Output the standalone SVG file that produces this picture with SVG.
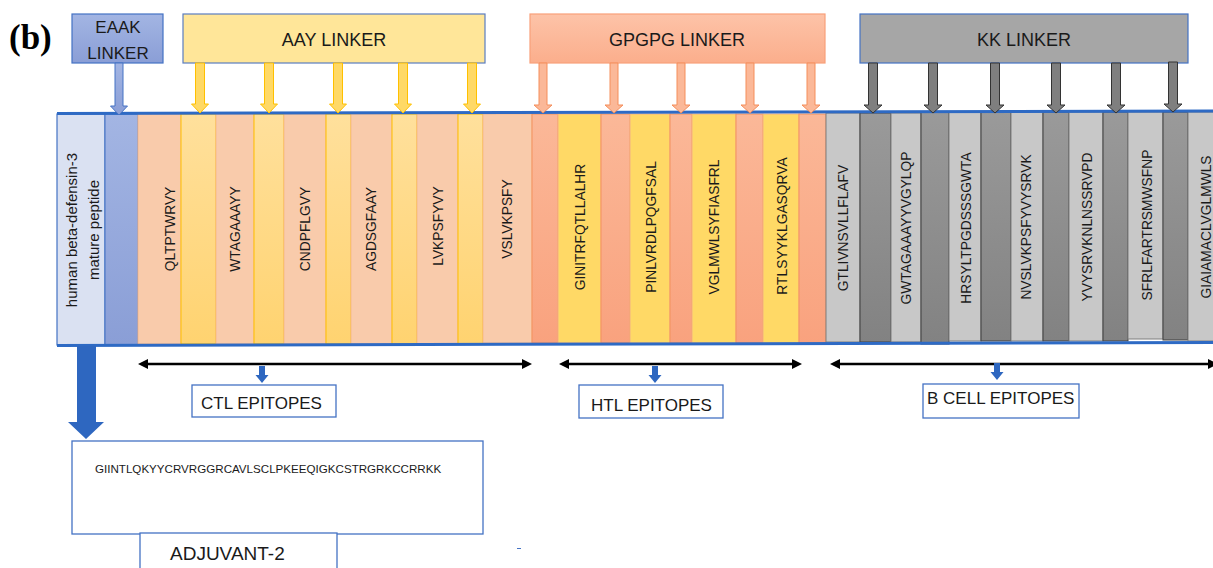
<svg xmlns="http://www.w3.org/2000/svg" xmlns:xlink="http://www.w3.org/1999/xlink" width="1213" height="568" viewBox="0 0 1213 568">
<defs>
<style>
.t{font-family:"Liberation Sans",Arial,sans-serif;fill:#1a1a1a}
.v{font-family:"Liberation Sans",Arial,sans-serif;font-size:13.8px;fill:#1a1a1a;text-anchor:middle;dominant-baseline:central}
.vb{font-size:15px}
.ctl{fill:#F9CBAB;stroke:#F5B98F;stroke-width:1}
.aay{fill:url(#gAay);stroke:#FFC000;stroke-width:1}
.gp{fill:url(#gGp);stroke:#F4915E;stroke-width:1}
.htl{fill:#FFD966;stroke:#F4B183;stroke-width:1}
.bc{fill:#C8C8C8;stroke:#7F7F7F;stroke-width:1}
.kk{fill:url(#gKk);stroke:#3F3F3F;stroke-width:1}
.lbl{fill:#fff;stroke:#4472C4;stroke-width:1.3}
.dbl{stroke:#000;stroke-width:2.5;fill:none;marker-start:url(#ah);marker-end:url(#ah)}
</style>
<linearGradient id="gAay" x1="0" y1="0" x2="0" y2="1"><stop offset="0" stop-color="#FFE09C"/><stop offset="1" stop-color="#FFD370"/></linearGradient>
<linearGradient id="gGp" x1="0" y1="0" x2="0" y2="1"><stop offset="0" stop-color="#FBB898"/><stop offset="1" stop-color="#F9A27E"/></linearGradient>
<linearGradient id="gKk" x1="0" y1="0" x2="0" y2="1"><stop offset="0" stop-color="#9A9A9A"/><stop offset="1" stop-color="#828282"/></linearGradient>
<linearGradient id="gEaak" x1="0" y1="0" x2="0" y2="1"><stop offset="0" stop-color="#A3B5E3"/><stop offset="1" stop-color="#8A9ED6"/></linearGradient>
<linearGradient id="gGpBox" x1="0" y1="0" x2="0" y2="1"><stop offset="0" stop-color="#FDC3A8"/><stop offset="1" stop-color="#FBAE8C"/></linearGradient>
<marker id="ah" viewBox="0 0 10 10" refX="6" refY="5" markerWidth="4" markerHeight="4" orient="auto-start-reverse" markerUnits="strokeWidth"><path d="M0,0 L10,5 L0,10 Z" fill="#000"/></marker>
<path id="arY" d="M-4.5,63 L4.5,63 L4.5,104 L8.5,104 L0,113 L-8.5,104 L-4.5,104 Z" fill="#FFD966" stroke="#FFC000" stroke-width="1"/>
<path id="arG" d="M-4,63 L4,63 L4,105 L9,105 L0,113 L-9,105 L-4,105 Z" fill="#FBB898" stroke="#F58E5B" stroke-width="1"/>
<path id="arK" d="M-4.5,63 L4.5,63 L4.5,105 L9,105 L0,113 L-9,105 L-4.5,105 Z" fill="#7F7F7F" stroke="#333" stroke-width="1"/>
<path id="arB" d="M-3,366 L3,366 L3,375 L6.5,375 L0,383 L-6.5,375 L-3,375 Z" fill="#2E67C0"/>
</defs>
<rect width="1213" height="568" fill="#fff"/>

<text x="9" y="49" font-family="'Liberation Serif','Times New Roman',serif" font-weight="bold" font-size="35" fill="#000">(b)</text>

<!-- Top linker boxes -->
<g id="eaak-linker">
<rect x="72" y="14" width="91" height="49" fill="url(#gEaak)" stroke="#4472C4" stroke-width="1.2"/>
<text class="t" x="118" y="33" font-size="17" text-anchor="middle">EAAK</text>
<text class="t" x="118" y="59" font-size="17" text-anchor="middle">LINKER</text>
</g>
<g id="aay-linker">
<rect x="183" y="14" width="302" height="49" fill="#FFE699" stroke="#5B7DC0" stroke-width="1.2"/>
<text class="t" x="334" y="46" font-size="18" text-anchor="middle">AAY LINKER</text>
</g>
<g id="gpgpg-linker">
<rect x="530" y="14" width="295" height="49" fill="url(#gGpBox)" stroke="#F8A07A" stroke-width="1.2"/>
<text class="t" x="677" y="46" font-size="18" text-anchor="middle">GPGPG LINKER</text>
</g>
<g id="kk-linker">
<rect x="860" y="14" width="328" height="49" fill="#A6A6A6" stroke="#4472C4" stroke-width="1.2"/>
<text class="t" x="1024" y="46" font-size="18" text-anchor="middle">KK LINKER</text>
</g>

<!-- Construct band -->
<g id="construct">
<rect x="57" y="114" width="48" height="231" fill="#DAE1F2" stroke="#4472C4" stroke-width="1.2"/>
<rect x="105" y="114" width="33" height="231" fill="url(#gEaak)" stroke="#4472C4" stroke-width="1"/>
<rect class="ctl" x="138" y="114" width="43" height="230"/>
<rect class="aay" x="181" y="114" width="35" height="230"/>
<rect class="ctl" x="216" y="114" width="38" height="230"/>
<rect class="aay" x="254" y="114" width="30" height="230"/>
<rect class="ctl" x="284" y="114" width="42" height="230"/>
<rect class="aay" x="326" y="114" width="25" height="230"/>
<rect class="ctl" x="351" y="114" width="41" height="230"/>
<rect class="aay" x="392" y="114" width="25" height="230"/>
<rect class="ctl" x="417" y="114" width="41" height="230"/>
<rect class="aay" x="458" y="114" width="25" height="230"/>
<rect class="ctl" x="483" y="114" width="49" height="229"/>
<rect class="gp" x="532" y="114" width="26" height="229"/>
<rect class="htl" x="558" y="114" width="43" height="229"/>
<rect class="gp" x="601" y="114" width="29" height="229"/>
<rect class="htl" x="630" y="114" width="40" height="229" stroke="#44546A"/>
<rect class="gp" x="670" y="114" width="22" height="229"/>
<rect class="htl" x="692" y="114" width="44" height="229"/>
<rect class="gp" x="736" y="114" width="27" height="229"/>
<rect class="htl" x="763" y="114" width="36" height="229" stroke="#44546A"/>
<rect class="gp" x="799" y="114" width="27" height="229"/>
<rect class="bc" x="826" y="113" width="34" height="229"/>
<rect class="kk" x="860" y="113" width="31" height="229"/>
<rect class="bc" x="891" y="113" width="30" height="229"/>
<rect class="kk" x="921" y="112" width="28" height="232"/>
<rect class="bc" x="949" y="112" width="32" height="229"/>
<rect class="kk" x="981" y="112" width="30" height="229"/>
<rect class="bc" x="1011" y="112" width="32" height="229"/>
<rect class="kk" x="1043" y="112" width="26" height="229"/>
<rect class="bc" x="1069" y="112" width="34" height="229"/>
<rect class="kk" x="1103" y="112" width="25" height="229"/>
<rect class="bc" x="1128" y="112" width="35" height="227" stroke="#4472C4"/>
<rect class="kk" x="1163" y="112" width="25" height="228"/>
<rect class="bc" x="1188" y="112" width="30" height="229"/>
<line x1="57" y1="113.5" x2="1213" y2="111" stroke="#2E6AC4" stroke-width="3"/>
<line x1="57" y1="345.5" x2="1213" y2="342.5" stroke="#2E6AC4" stroke-width="3"/>
</g>

<!-- Band texts -->
<g id="hbd3">
<text class="v vb" transform="translate(71,230) rotate(-90)">human beta-defensin-3</text>
<text class="v vb" transform="translate(93,230) rotate(-90)">mature peptide</text>
</g>
<g id="ctl-epitope-texts">
<text class="v" transform="translate(170,229) rotate(-90)">QLTPTWRVY</text>
<text class="v" transform="translate(235,229) rotate(-90)">WTAGAAAYY</text>
<text class="v" transform="translate(305,229) rotate(-90)">CNDPFLGVY</text>
<text class="v" transform="translate(371,229) rotate(-90)">AGDSGFAAY</text>
<text class="v" transform="translate(438,226) rotate(-90)">LVKPSFYVY</text>
<text class="v" transform="translate(507,219) rotate(-90)">VSLVKPSFY</text>
</g>
<g id="htl-epitope-texts">
<text class="v" transform="translate(580,227) rotate(-90)">GINITRFQTLLALHR</text>
<text class="v" transform="translate(651,227) rotate(-90)">PINLVRDLPQGFSAL</text>
<text class="v" transform="translate(714,227) rotate(-90)">VGLMWLSYFIASFRL</text>
<text class="v" transform="translate(782,226) rotate(-90)">RTLSYYKLGASQRVA</text>
</g>
<g id="bcell-epitope-texts">
<text class="v" transform="translate(843,228) rotate(-90)">GTLIVNSVLLFLAFV</text>
<text class="v" transform="translate(906,228) rotate(-90)">GWTAGAAAYYVGYLQP</text>
<text class="v" transform="translate(966,228) rotate(-90)">HRSYLTPGDSSSGWTA</text>
<text class="v" transform="translate(1026,227) rotate(-90)">NVSLVKPSFYVYSRVK</text>
<text class="v" transform="translate(1087,227) rotate(-90)">YVYSRVKNLNSSRVPD</text>
<text class="v" transform="translate(1147,225) rotate(-90)">SFRLFARTRSMWSFNP</text>
<text class="v" transform="translate(1206,227) rotate(-90)">GIAIAMACLVGLMWLS</text>
</g>

<!-- Connectors -->
<g id="connectors">
<path d="M115,63 L123,63 L123,106 L127.5,106 L119,115 L110.5,106 L115,106 Z" fill="url(#gEaak)" stroke="#4472C4" stroke-width="1"/>
<use href="#arY" x="200"/>
<use href="#arY" x="269"/>
<use href="#arY" x="338"/>
<use href="#arY" x="403"/>
<use href="#arY" x="472"/>
<use href="#arG" x="543"/>
<use href="#arG" x="614"/>
<use href="#arG" x="681"/>
<use href="#arG" x="750"/>
<use href="#arG" x="811"/>
<use href="#arK" x="873"/>
<use href="#arK" x="933"/>
<use href="#arK" x="995"/>
<use href="#arK" x="1056"/>
<use href="#arK" x="1116"/>
<use href="#arK" x="1173" y="-1"/>
<line class="dbl" x1="142" y1="364" x2="528" y2="364"/>
<line class="dbl" x1="563" y1="364" x2="798" y2="364"/>
<line class="dbl" x1="834" y1="364" x2="1214" y2="364"/>
<use href="#arB" x="262"/>
<use href="#arB" x="655"/>
<use href="#arB" x="997" y="-3"/>
<path d="M77,346 L96,346 L96,422 L104,422 L86,439 L68,422 L77,422 Z" fill="#2E67C0"/>
</g>

<!-- Epitope labels -->
<g id="ctl-label">
<rect class="lbl" x="192" y="385" width="144" height="32"/>
<text class="t" x="201" y="409" font-size="17">CTL EPITOPES</text>
</g>
<g id="htl-label">
<rect class="lbl" x="579" y="385" width="144" height="33"/>
<text class="t" x="591" y="411" font-size="17">HTL EPITOPES</text>
</g>
<g id="bcell-label">
<rect class="lbl" x="923" y="384" width="156" height="34"/>
<text class="t" x="927" y="404" font-size="17">B CELL EPITOPES</text>
</g>

<!-- Adjuvant -->
<g id="adjuvant-sequence">
<rect class="lbl" x="72" y="441" width="411" height="93"/>
<text class="t" x="95" y="473" font-size="11.6">GIINTLQKYYCRVRGGRCAVLSCLPKEEQIGKCSTRGRKCCRRKK</text>
</g>
<g id="adjuvant-label">
<rect class="lbl" x="140" y="533" width="197" height="40"/>
<text class="t" x="170" y="560" font-size="19">ADJUVANT-2</text>
</g>
<line x1="517" y1="548.5" x2="521" y2="548.5" stroke="#4472C4" stroke-width="1"/>
</svg>
